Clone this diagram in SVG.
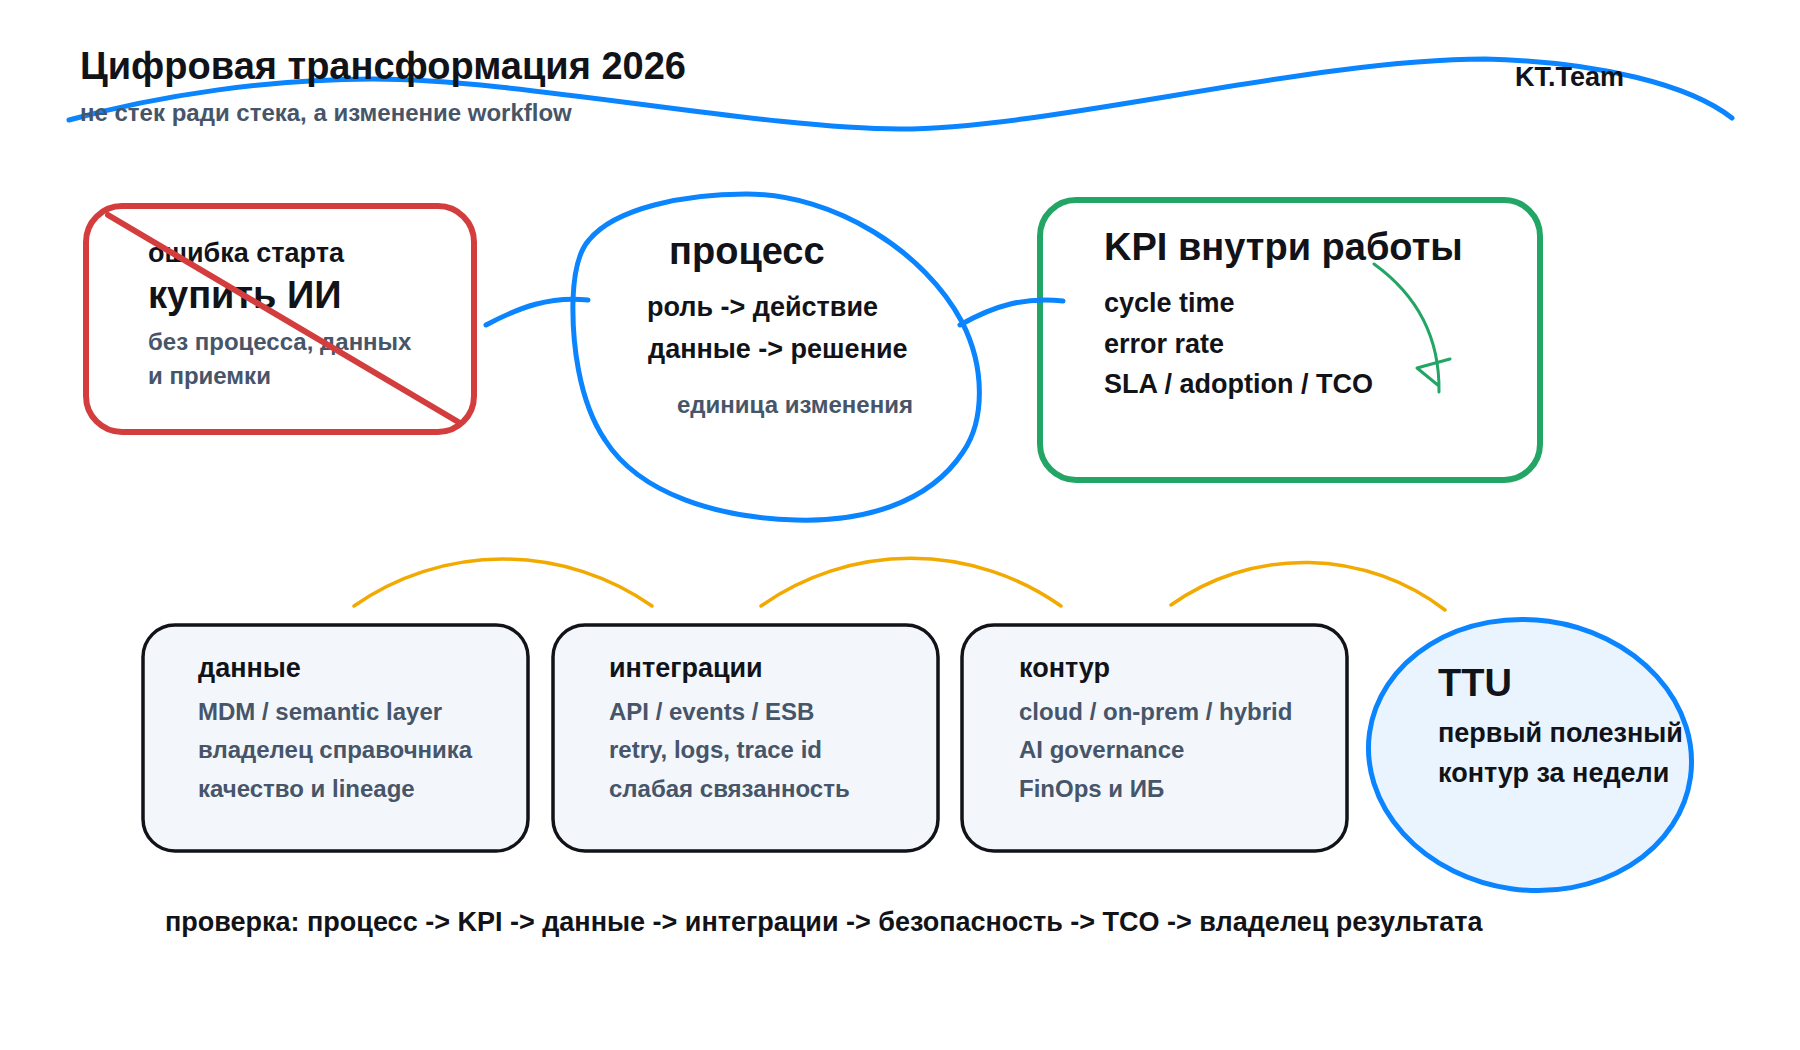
<svg xmlns="http://www.w3.org/2000/svg" width="1800" height="1050" viewBox="0 0 1800 1050">
<style>
text{font-family:"Liberation Sans",Arial,"Noto Sans",sans-serif;font-weight:700;fill:#111318}
.g{fill:#475569}
.h1{font-size:38px}
.h2{font-size:38px}
.b27{font-size:27px}
.b24{font-size:24px}
.blue{fill:none;stroke:#0a84ff;stroke-width:5;stroke-linecap:round;stroke-linejoin:round}
.card{fill:#f3f7fc;stroke:#111318;stroke-width:3.5}
.arc{fill:none;stroke:#f2a900;stroke-width:3.5;stroke-linecap:round}
</style>
<rect width="1800" height="1050" fill="#ffffff"/>
<g id="header">
<path class="blue" d="M69,120 C160,95 270,79 373,79 C520,79 760,129 900,129 C1050,129 1310,59 1485,59 C1600,62 1690,85 1732,118"/>
<text class="h1" x="80" y="79">Цифровая трансформация 2026</text>
<text class="g b24" x="80" y="121">не стек ради стека, а изменение workflow</text>
<text class="b27" x="1515" y="86">KT.Team</text>
</g>
<g id="node-buy-ai">
<rect x="86" y="206" width="388" height="226" rx="36" fill="#ffffff" stroke="#d43d3d" stroke-width="6"/>
<text class="b27" x="148" y="262">ошибка старта</text>
<text class="h2" x="148" y="308">купить ИИ</text>
<text class="g b24" x="148" y="350">без процесса, данных</text>
<text class="g b24" x="148" y="384">и приемки</text>
<path d="M108,215 L460,423" stroke="#d43d3d" stroke-width="6" stroke-linecap="round"/>
</g>
<g id="node-process">
<path class="blue" d="M589,240 C615,208 685,194 746,194 C835,194 925,252 962,322 C985,367 985,420 963,452 C928,505 860,522 796,520 C720,518 640,495 605,440 C578,400 572,340 573,300 C574,270 580,250 589,240 Z" style="fill:#ffffff"/>
<text class="h2" x="669" y="264">процесс</text>
<text class="b27" x="647" y="316">роль -&gt; действие</text>
<text class="b27" x="648" y="358">данные -&gt; решение</text>
<text class="g b24" x="677" y="413">единица изменения</text>
</g>
<g id="node-kpi">
<rect x="1040" y="200" width="500" height="280" rx="36" fill="#ffffff" stroke="#22a565" stroke-width="6"/>
<text class="h2" x="1104" y="260">KPI внутри работы</text>
<text class="b27" x="1104" y="312">cycle time</text>
<text class="b27" x="1104" y="353">error rate</text>
<text class="b27" x="1104" y="393">SLA / adoption / TCO</text>
<path d="M1374,264 C1410,290 1440,330 1439,392 M1450,359 L1417,368 L1439,386" fill="none" stroke="#22a565" stroke-width="3" stroke-linecap="round" stroke-linejoin="round"/>
</g>
<g id="node-data">
<rect class="card" x="143" y="625" width="385" height="226" rx="32"/>
<text class="b27" x="198" y="677">данные</text>
<text class="g b24" x="198" y="720">MDM / semantic layer</text>
<text class="g b24" x="198" y="758">владелец справочника</text>
<text class="g b24" x="198" y="797">качество и lineage</text>
</g>
<g id="node-integrations">
<rect class="card" x="553" y="625" width="385" height="226" rx="32"/>
<text class="b27" x="609" y="677">интеграции</text>
<text class="g b24" x="609" y="720">API / events / ESB</text>
<text class="g b24" x="609" y="758">retry, logs, trace id</text>
<text class="g b24" x="609" y="797">слабая связанность</text>
</g>
<g id="node-contour">
<rect class="card" x="962" y="625" width="385" height="226" rx="32"/>
<text class="b27" x="1019" y="677">контур</text>
<text class="g b24" x="1019" y="720">cloud / on-prem / hybrid</text>
<text class="g b24" x="1019" y="758">AI governance</text>
<text class="g b24" x="1019" y="797">FinOps и ИБ</text>
</g>
<g id="node-ttu">
<ellipse cx="1530" cy="755" rx="162" ry="135" transform="rotate(8 1530 755)" fill="#eaf4ff" stroke="#0a84ff" stroke-width="5"/>
<text class="h2" x="1438" y="696">TTU</text>
<text class="b27" x="1438" y="742">первый полезный</text>
<text class="b27" x="1438" y="782">контур за недели</text>
</g>
<g id="connectors">
<path class="blue" stroke-width="6" d="M486,325 C520,307 550,296 588,300"/>
<path class="blue" stroke-width="6" d="M960,325 C995,305 1025,297 1063,301"/>
<path class="arc" d="M354,606 A260,260 0 0 1 652,606"/>
<path class="arc" d="M761,606 A260,260 0 0 1 1061,606"/>
<path class="arc" d="M1171,605 A231,231 0 0 1 1445,610"/>
</g>
<g id="footer">
<text class="b27" x="165" y="931">проверка: процесс -&gt; KPI -&gt; данные -&gt; интеграции -&gt; безопасность -&gt; TCO -&gt; владелец результата</text>
</g>
</svg>
